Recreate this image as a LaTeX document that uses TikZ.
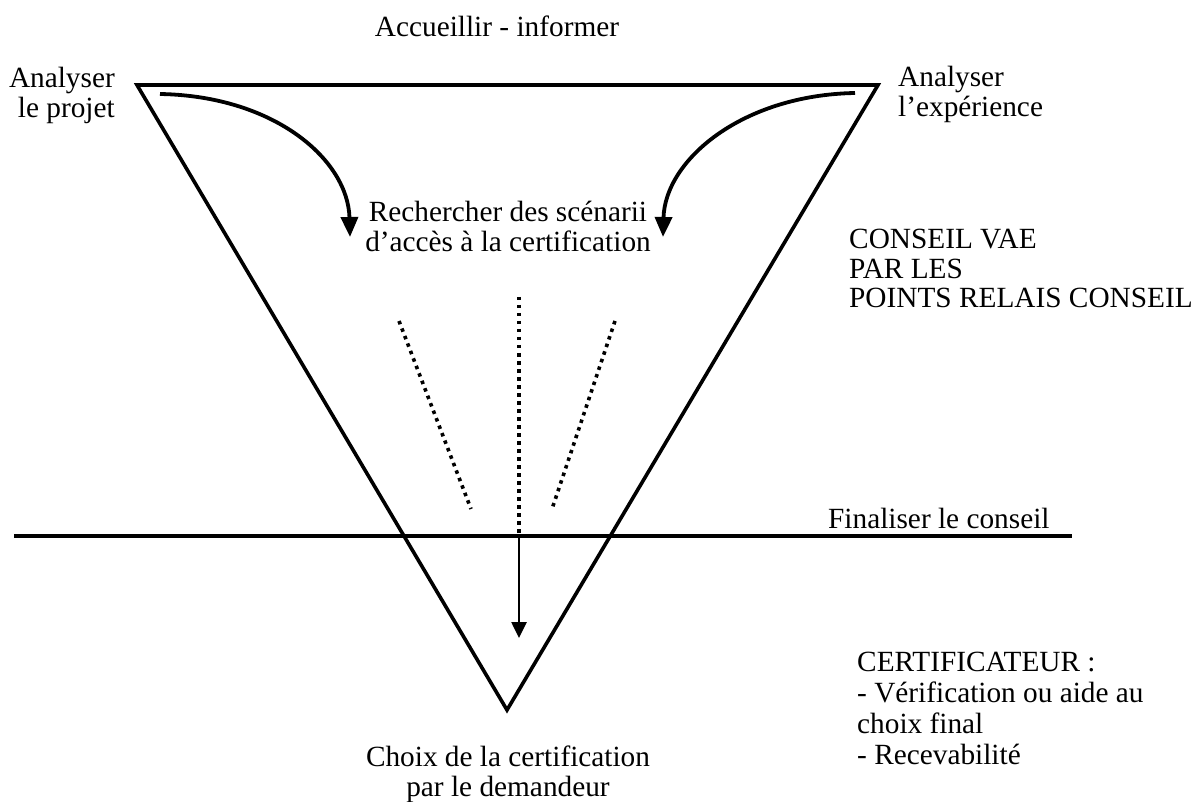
\documentclass[tikz,border=0pt]{standalone}
\usepackage{fontspec}
\setmainfont{Liberation Serif}
\usetikzlibrary{arrows.meta}
\begin{document}
\begin{tikzpicture}[x=1pt,y=-1pt,
  txt/.style={inner sep=0pt,font=\fontsize{29.3}{30}\selectfont},
  frame/.style={line width=3.6pt,line join=miter},
  curvearrow/.style={line width=3.8pt,-{Triangle[length=20pt,width=17pt]}},
  dots/.style={line width=3.6pt,dash pattern=on 3.5pt off 4.5pt},
  downarrow/.style={line width=2.6pt,-{Triangle[length=16pt,width=15pt]}}]
\useasboundingbox (0,0) rectangle (1197,802);
% triangle corners
\coordinate (tl) at (137,85);
\coordinate (tr) at (878,85);
\coordinate (bt) at (507,710);
\draw[frame] (tl) -- (tr) -- (bt) -- cycle;
% horizontal line
\coordinate (hl) at (14,536);
\coordinate (hr) at (1072,536);
\draw[frame] (hl) -- (hr);
% texts (base anchor = baseline of last line)
\node[txt,anchor=base] (accueil) at (497,37) {Accueillir - informer};
\node[txt,anchor=base east,align=right] (projet) at (115,118) {Analyser\\le projet};
\node[txt,anchor=base west,align=left] (experience) at (898,117) {Analyser\\l’expérience};
\node[txt,anchor=base,align=center] (recherche) at (508,252) {Rechercher des scénarii\\d’accès à la certification};
\node[txt,anchor=base west,align=left,font=\fontsize{29.3}{29.5}\selectfont] (conseil) at (849,308) {CONSEIL VAE\\PAR LES\\POINTS RELAIS CONSEIL};
\node[txt,anchor=base west] (finaliser) at (828,528) {Finaliser le conseil};
\node[txt,anchor=base west,align=left,font=\fontsize{29.3}{31}\selectfont] (certif) at (857,764) {CERTIFICATEUR :\\- Vérification ou aide au\\choix final\\- Recevabilité};
\node[txt,anchor=base,align=center] (choix) at (508,796) {Choix de la certification\\par le demandeur};
% curved arrows
\coordinate (ls) at (160,94);
\coordinate (le) at (350,237);
\draw[curvearrow] (ls) .. controls (275,96) and (348,160) .. (le);
\coordinate (rs) at (855,93);
\coordinate (re) at (663,237);
\draw[curvearrow] (rs) .. controls (742,95) and (665,160) .. (re);
% dotted rays
\coordinate (c1) at (519,297);
\coordinate (c2) at (519,536);
\draw[dots] (c1) -- (c2);
\coordinate (l1) at (399,321);
\coordinate (l2) at (471,509);
\draw[dots] (l1) -- (l2);
\coordinate (r1) at (615,321);
\coordinate (r2) at (552,509);
\draw[dots] (r1) -- (r2);
% final arrow
\coordinate (tip) at (519,638);
\draw[downarrow] (c2) -- (tip);
\end{tikzpicture}
\end{document}
